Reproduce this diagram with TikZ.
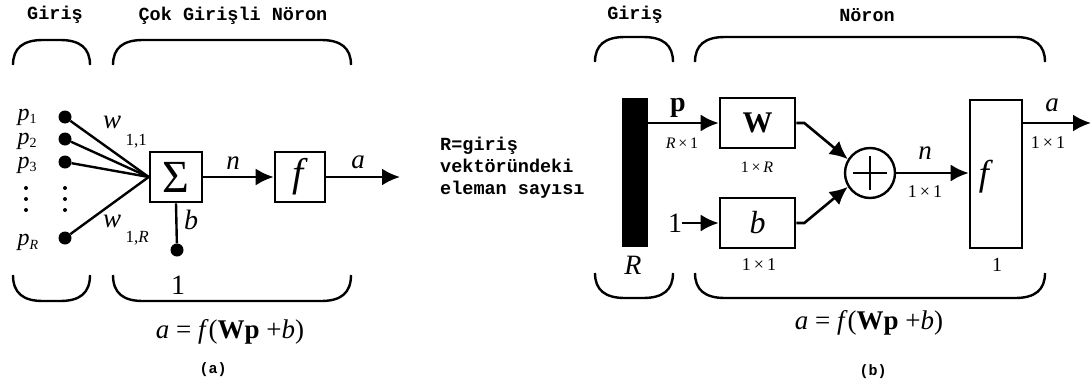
\documentclass[tikz,border=0pt]{standalone}
\usepackage{fontspec}
\setmainfont{Liberation Serif}
\setmonofont{Liberation Mono}
\usetikzlibrary{arrows.meta}
\newcommand\upbrace[4]{%
  \draw[brace] (#1,#4) .. controls (#1,#3+8) and (#1+10,#3) .. (#1+30,#3) -- (#2-30,#3) .. controls (#2-10,#3) and (#2,#3+8) .. (#2,#4);}
\newcommand\downbrace[4]{%
  \draw[brace] (#1,#3) .. controls (#1,#4-8) and (#1+10,#4) .. (#1+30,#4) -- (#2-30,#4) .. controls (#2-10,#4) and (#2,#4-8) .. (#2,#3);}
\newcommand\lowsub[3][17]{\raisebox{#2}{\fontsize{#1}{#1}\selectfont #3}}
\newcommand\vi[1]{\textit{#1}}
\tikzset{
  box/.style={draw, line width=2.6pt, inner sep=0pt},
  arr/.style={line width=2.6pt, -{Latex[length=18pt,width=17pt]}},
  wire/.style={line width=2.4pt},
  brace/.style={line width=2.4pt},
  hdr/.style={font=\fontsize{18.5}{22}\selectfont\ttfamily\bfseries, inner sep=0pt},
  dot/.style={circle, fill, inner sep=0pt, minimum size=13pt},
  sdot/.style={circle, fill, inner sep=0pt, minimum size=4pt},
  lbl/.style={font=\fontsize{27}{30}\selectfont, inner sep=0pt},
  big/.style={font=\fontsize{28}{32}\selectfont, inner sep=0pt},
  pin/.style={font=\fontsize{24}{27}\selectfont, inner sep=0pt},
  small/.style={font=\fontsize{18}{20}\selectfont, inner sep=0pt},
  tiny/.style={font=\fontsize{16}{18}\selectfont, inner sep=0pt},
}
\begin{document}
\begin{tikzpicture}[x=1pt,y=-1pt]
\useasboundingbox (0,0) rectangle (1091,388);
% ---------------- (a) ----------------
\node[hdr] (ha1) at (55,15) {Giriş};
\node[hdr] (ha2) at (233,16) {Çok Girişli Nöron};
\upbrace{13}{90}{40}{65}
\upbrace{113}{351}{40}{65}
\downbrace{13}{90}{275}{301}
\downbrace{113}{351}{275}{301}

\node[dot] (d1) at (65,117) {};
\node[dot] (d2) at (65,139) {};
\node[dot] (d3) at (65,162) {};
\node[dot] (dR) at (65,238) {};
\node[sdot] (v1) at (65,188) {};
\node[sdot] (v2) at (65,199) {};
\node[sdot] (v3) at (65,210) {};
\node[sdot] (u1) at (26,188) {};
\node[sdot] (u2) at (26,199) {};
\node[sdot] (u3) at (26,210) {};
\node[pin] (p1) at (27,117) {\vi{p}\lowsub[14]{-3pt}{1}};
\node[pin] (p2) at (27,141) {\vi{p}\lowsub[14]{-3pt}{2}};
\node[pin] (p3) at (27,165) {\vi{p}\lowsub[14]{-3pt}{3}};
\node[pin] (pR) at (28,242) {\vi{p}\lowsub[14]{-4pt}{\vi{R}}};

\node[box, minimum width=52pt, minimum height=50pt, font=\fontsize{46}{46}\selectfont] (sum) at (176,177) {Σ};
\draw[wire] (d1) -- (sum.west);
\draw[wire] (d2) -- (sum.west);
\draw[wire] (d3) -- (sum.west);
\draw[wire] (dR) -- (sum.west);
\node[lbl, anchor=base west] (w11) at (103,128) {\vi{w}\,\lowsub{-17pt}{1,1}};
\node[lbl, anchor=base west] (w1R) at (103,227) {\vi{w}\,\lowsub{-15pt}{1,\vi{R}}};

\node[dot] (bd) at (177,250) {};
\draw[wire] (sum.south) -- (bd);
\node[big] (bl) at (191,220) {\vi{b}};
\node[big] (one) at (178,285) {1};

\node[box, minimum width=50pt, minimum height=50pt, font=\fontsize{40}{40}\selectfont] (fa) at (300,177) {\vi{f}};
\draw[arr] (sum.east) -- (fa.west);
\node[lbl] (nl) at (233,163) {\vi{n}};
\coordinate (aout) at (400,177);
\draw[arr] (fa.east) -- (aout);
\node[lbl] (al) at (358,162) {\vi{a}};

\node[lbl] (fma) at (230,332) {\vi{a} = \vi{f}(\textbf{Wp} +\vi{b})};
\node[font=\fontsize{15}{17}\selectfont\ttfamily\bfseries] (capa) at (213,370) {(a)};

% middle text
\node[font=\fontsize{18.5}{22}\selectfont\ttfamily\bfseries, align=left, anchor=west, inner sep=0pt] (note) at (440,168) {R=giriş\\vektöründeki\\eleman sayısı};

% ---------------- (b) ----------------
\node[hdr] (hb1) at (635,15) {Giriş};
\node[hdr] (hb2) at (867,15) {Nöron};
\upbrace{595}{673}{37}{62}
\upbrace{695}{1045}{37}{62}
\downbrace{595}{673}{273}{298}
\downbrace{695}{1045}{273}{298}

\node[fill=black, minimum width=26pt, minimum height=149pt, inner sep=0pt] (pbar) at (635,172.5) {};
\node[big] (Rl) at (633,265) {\vi{R}};

\node[box, minimum width=75pt, minimum height=50pt, font=\fontsize{30}{30}\selectfont] (W) at (757.5,123) {\textbf{W}};
\node[box, minimum width=75pt, minimum height=50pt, font=\fontsize{32}{32}\selectfont] (bb) at (757.5,223) {\vi{b}};
\draw[arr] (W.west -| pbar.east) -- (W.west);
\node[big] (pl) at (678,108) {\textbf{p}};
\node[tiny] (Rx1) at (682,143) {\vi{R}\,×\,1};
\node[tiny] (oxR) at (757,167) {1\,×\,\vi{R}};
\node[big] (oneb) at (675,223) {1};
\draw[arr] (oneb.east) -- (bb.west);
\node[small] (oxo1) at (759,265) {1\,×\,1};

\node[circle, draw, line width=2.4pt, minimum size=50pt, inner sep=0pt] (add) at (870,173) {};
\draw[line width=2.4pt] (add.center) ++(-17,0) -- ++(34,0);
\draw[line width=2.4pt] (add.center) ++(0,-17) -- ++(0,34);
\draw[arr] (W.east) -- ++(8,0) -- (add.148);
\draw[arr] (bb.east) -- ++(8,0) -- (add.212);

\node[box, minimum width=52pt, minimum height=148pt] (fb) at (996,174) {};
\node[font=\fontsize{36}{36}\selectfont, inner sep=0pt] (fl) at (986,177) {\vi{f}};
\draw[arr] (add.east) -- (fb.west |- add.east);
\node[lbl] (nb) at (925,153) {\vi{n}};
\node[small] (oxo2) at (925,192) {1\,×\,1};
\coordinate (bout) at (1091,123);
\draw[arr] (fb.east |- bout) -- (bout);
\node[lbl] (ab) at (1052,105) {\vi{a}};
\node[small] (oxo3) at (1048,143) {1\,×\,1};
\node[font=\fontsize{20}{22}\selectfont, inner sep=0pt] (onef) at (997,265) {1};

\node[lbl] (fmb) at (869,323) {\vi{a} = \vi{f}(\textbf{Wp} +\vi{b})};
\node[font=\fontsize{15}{17}\selectfont\ttfamily\bfseries] (capb) at (873,372) {(b)};
\end{tikzpicture}
\end{document}
